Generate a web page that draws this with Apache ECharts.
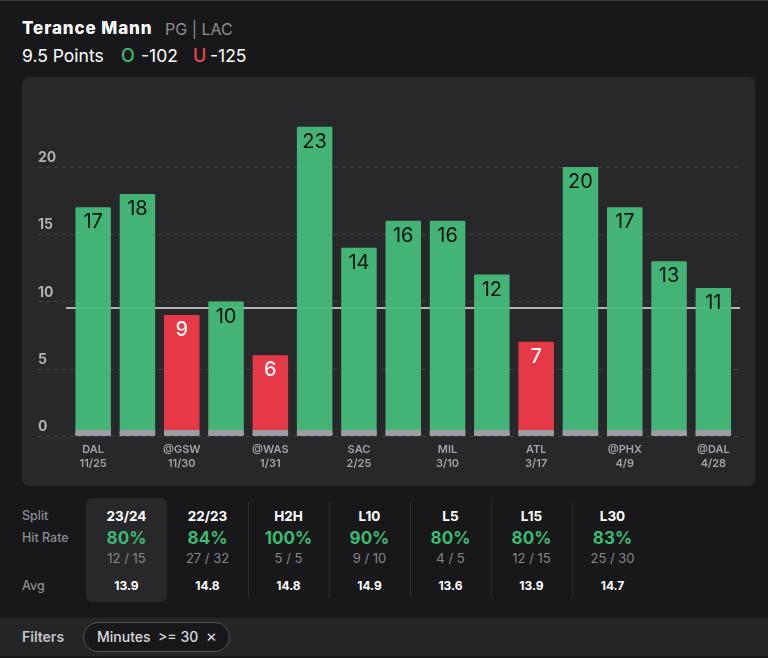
<!DOCTYPE html>
<html>
<head>
<meta charset="utf-8">
<script src="https://cdn.jsdelivr.net/npm/echarts@6/dist/echarts.min.js"></script>
<style>
    html, body { margin: 0; padding: 0; background: #18181a; }
    body { width: 768px; height: 658px; position: relative; overflow: hidden; font-family: Inter, "Noto Sans", sans-serif; color: #fff; }
    .abs { position: absolute; white-space: nowrap; }
    #topline { left: 0; top: 0; width: 768px; height: 1px; background: #3a3a3e; }
    #chart { left: 22px; top: 77px; width: 733px; height: 409px; background: #28282a; border-radius: 6px; overflow: hidden; }
    #name { left: 22px; top: 18px; font-size: 17px; font-weight: 800; letter-spacing: 0.9px; line-height: 20px; }
    #pos { left: 165px; top: 19px; font-size: 16px; color: #8c8c92; line-height: 20px; }
    .odds { top: 46px; font-size: 17.5px; line-height: 20px; }
    .side { text-align: left; left: 22px; font-size: 12.5px; color: #8d8d92; font-weight: 500; line-height: 16px; }
    .cell { transform: translateX(-50%); text-align: center; }
    .split { top: 508px; font-size: 13.5px; font-weight: 700; line-height: 16px; }
    .rate { top: 528px; font-size: 17px; font-weight: 700; color: #3dbb72; line-height: 20px; }
    .frac { top: 550px; font-size: 13px; color: #85858a; line-height: 16px; }
    .avg { top: 578px; font-size: 12px; font-weight: 700; line-height: 16px; }
    .sep { top: 502px; height: 96px; width: 1px; background: #2c2c2f; }
    #selected { left: 86px; top: 498px; width: 81px; height: 104px; background: #28282a; border-radius: 6px; }
    #filterbar { left: 0; top: 618px; width: 768px; height: 38px; background: #252527; }
    #filterlabel { left: 22px; top: 629px; font-size: 14px; font-weight: 600; color: #c4c4c8; line-height: 16px; }
    #pill { left: 83px; top: 622px; width: 145px; height: 28px; border: 1px solid #515155; border-radius: 15px; background: #18181a; font-size: 14px; line-height: 28px; color: #d8d8dc; text-indent: 13px; font-weight: 500; }
    #pill span { font-size: 17px; line-height: 14px; font-weight: 400; }
</style>
</head>
<body>
<div class="abs" id="topline"></div>
<div class="abs" id="name">Terance Mann</div>
<div class="abs" id="pos">PG | LAC</div>
<div class="abs odds" style="left:22px">9.5 Points</div>
<div class="abs odds" style="left:121px;color:#3dbb72;font-weight:500;font-size:18px">O</div>
<div class="abs odds" style="left:141px">-102</div>
<div class="abs odds" style="left:193px;color:#e8474f;font-weight:500;font-size:18px">U</div>
<div class="abs odds" style="left:210px">-125</div>

<div class="abs" id="chart"></div>

<div class="abs" id="selected"></div>
<div class="abs side" style="top:508px">Split</div>
<div class="abs side" style="top:530px">Hit Rate</div>
<div class="abs side" style="top:578px">Avg</div>
<div id="table"></div>

<div class="abs" id="filterbar"></div>
<div class="abs" id="filterlabel">Filters</div>
<div class="abs" id="pill">Minutes&nbsp; &gt;= 30 &nbsp;<span>&times;</span></div>

<script>
// Game log, one entry per bar. Only every other game has a visible label
const opponents = ['DAL', '', '@GSW', '', '@WAS', '', 'SAC', '', 'MIL', '', 'ATL', '', '@PHX', '', '@DAL'];
const dates = ['11/25', '', '11/30', '', '1/31', '', '2/25', '', '3/10', '', '3/17', '', '4/9', '', '4/28'];
const points = [17, 18, 9, 10, 6, 23, 14, 16, 16, 12, 7, 20, 17, 13, 11];
const baseStrip = [0.45, 0.45, 0.45, 0.45, 0.45, 0.45, 0.45, 0.45, 0.45, 0.45, 0.45, 0.45, 0.45, 0.45, 0.45];
const propLine = 9.5;
const yTicks = [0, 5, 10, 15, 20];

// Split table
const splits = ['23/24', '22/23', 'H2H', 'L10', 'L5', 'L15', 'L30'];
const hitRates = ['80%', '84%', '100%', '90%', '80%', '80%', '83%'];
const hitCounts = ['12 / 15', '27 / 32', '5 / 5', '9 / 10', '4 / 5', '12 / 15', '25 / 30'];
const averages = ['13.9', '14.8', '14.8', '14.9', '13.6', '13.9', '14.7'];

const GREEN = '#45bb7a';
const RED = '#f03a49';

function addCell(cls, left, text) {
    const el = document.createElement('div');
    el.className = 'abs cell ' + cls;
    el.style.left = left + 'px';
    el.textContent = text;
    document.getElementById('table').appendChild(el);
}

splits.forEach((s, i) => {
    const x = 126.5 + i * 81;
    addCell('split', x, s);
    addCell('rate', x, hitRates[i]);
    addCell('frac', x, hitCounts[i]);
    addCell('avg', x, averages[i]);
    if (i >= 2) {
        const sep = document.createElement('div');
        sep.className = 'abs sep';
        sep.style.left = (x - 41) + 'px';
        document.getElementById('table').appendChild(sep);
    }
});

const chart = echarts.init(document.getElementById('chart'));

// three grids share one y scale: dashed lines run wider than the bars, prop line a bit less
const gridTop = 22.75;
const gridHeight = 336.25;
const hiddenY = (i) => ({ type: 'value', gridIndex: i, min: 0, max: 25, interval: 5, show: false, splitLine: { show: false } });
const hiddenX = (i) => ({ type: 'category', gridIndex: i, data: ['a'], show: false });

chart.setOption({
    animation: false,
    textStyle: { fontFamily: 'Inter' },
    grid: [
        { left: 49, width: 664.5, top: gridTop, height: gridHeight },
        { left: 16, width: 702, top: gridTop, height: gridHeight },
        { left: 44, width: 674, top: gridTop, height: gridHeight },
    ],
    xAxis: [
        {
            type: 'category',
            gridIndex: 0,
            data: opponents.map((o, i) => o ? o + '\n' + dates[i] : ''),
            axisLine: { show: false },
            axisTick: { show: false },
            axisLabel: { interval: 0, color: '#a2a2a8', fontSize: 11, fontWeight: 600, lineHeight: 14, margin: 7 },
        },
        hiddenX(1),
        hiddenX(2),
    ],
    yAxis: [
        hiddenY(0),
        {
            type: 'value',
            gridIndex: 1,
            min: 0,
            max: 25,
            interval: 5,
            axisLine: { show: false },
            axisTick: { show: false },
            axisLabel: {
                inside: true,
                margin: 0,
                color: '#b0b0b6',
                fontSize: 14,
                fontWeight: 700,
                verticalAlign: 'bottom',
                lineHeight: 18,
                customValues: yTicks,
            },
            splitLine: { show: true, showMaxLine: false, lineStyle: { color: '#414144', type: [4, 4], width: 1 } },
        },
        hiddenY(2),
    ],
    series: [
        {
            type: 'bar',
            xAxisIndex: 1,
            yAxisIndex: 1,
            data: [],
        },
        {
            type: 'line',
            xAxisIndex: 2,
            yAxisIndex: 2,
            z: 1,
            data: [],
            markLine: {
                z: 1,
                silent: true,
                symbol: 'none',
                label: { show: false },
                lineStyle: { color: '#b4b4b4', type: 'solid', width: 2 },
                data: [{ yAxis: propLine }],
            },
        },
        {
            type: 'bar',
            xAxisIndex: 0,
            yAxisIndex: 0,
            barWidth: 35.5,
            barGap: '-100%',
            z: 2,
            itemStyle: { borderRadius: 1, opacity: 0.95 },
            data: points.map((v) => ({
                value: v,
                itemStyle: { color: v > propLine ? GREEN : RED },
                label: { color: v > propLine ? '#0b0b0b' : '#ffffff', fontWeight: v > propLine ? 400 : 500 },
            })),
            label: { show: true, position: 'insideTop', distance: 5, fontSize: 20 },
        },
        {
            type: 'bar',
            xAxisIndex: 0,
            yAxisIndex: 0,
            barWidth: 35.5,
            barGap: '-100%',
            z: 3,
            itemStyle: { color: '#9c9ca4', borderRadius: 1 },
            data: baseStrip,
        },
    ],
});
</script>
</body>
</html>
